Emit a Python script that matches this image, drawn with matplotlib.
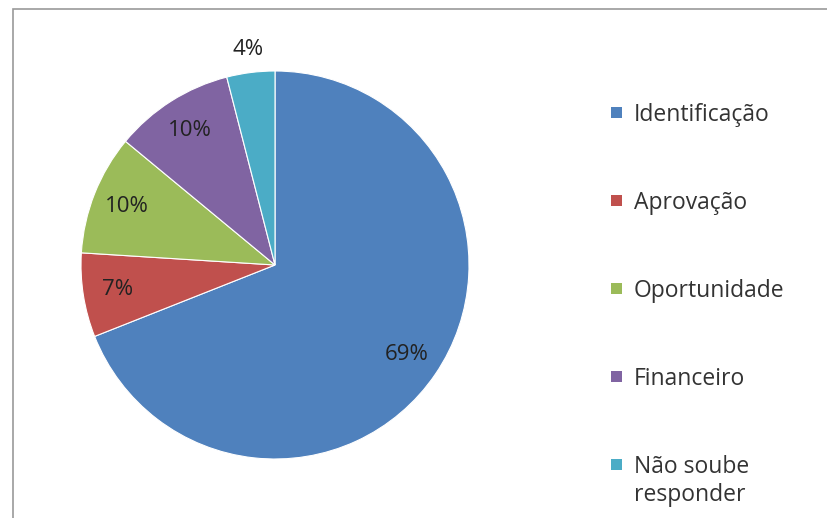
import numpy as np
import matplotlib
matplotlib.use("Agg")
import matplotlib.pyplot as plt
from matplotlib.patches import Rectangle

categories = ["Identificação", "Aprovação", "Oportunidade", "Financeiro", "Não soube\nresponder"]
values = [69, 7, 10, 10, 4]
colors = ["#4F81BD", "#C0504D", "#9BBB59", "#8064A2", "#4BACC6"]

W, H = 828, 518
fig = plt.figure(figsize=(W / 100, H / 100), dpi=100)
plt.rcParams["font.family"] = ["Open Sans", "DejaVu Sans"]

# chart frame (only top and left edges fall inside the image)
fig.patches.append(Rectangle((13 / W, -0.1), 1.2, 1 - 9.5 / H + 0.1,
                             transform=fig.transFigure, fill=False,
                             edgecolor="#9a9a9a", linewidth=1.2))

cx, cy, r = 275, 265, 194
ax = fig.add_axes([(cx - r) / W, (H - cy - r) / H, 2 * r / W, 2 * r / H])
wedges, _ = ax.pie(values, colors=colors, startangle=90, counterclock=False,
                   radius=1.0, wedgeprops=dict(edgecolor="white", linewidth=0.8))
ax.set_xlim(-1, 1)
ax.set_ylim(-1, 1)
ax.set_aspect("equal")
ax.axis("off")

for w, v in zip(wedges, values):
    mid = np.deg2rad((w.theta1 + w.theta2) / 2)
    d = 1.12 if v < 5 else 0.82
    ax.text(d * np.cos(mid), d * np.sin(mid), f"{v}%", ha="center", va="center",
            fontsize=16, color="#222222", clip_on=False)

# legend: square marker beside the first line of each entry
for i, (lab, c) in enumerate(zip(categories, colors)):
    y = 113 + 88 * i
    fig.patches.append(Rectangle((611 / W, 1 - (y + 5) / H), 11 / W, 11 / H,
                                 transform=fig.transFigure, facecolor=c, edgecolor="none"))
    for j, line in enumerate(lab.split("\n")):
        fig.text(634 / W, 1 - (y + 8 + 28 * j) / H, line, ha="left", va="baseline",
                 fontsize=16.5, color="#333333")

fig.savefig("out.png", dpi=100)
